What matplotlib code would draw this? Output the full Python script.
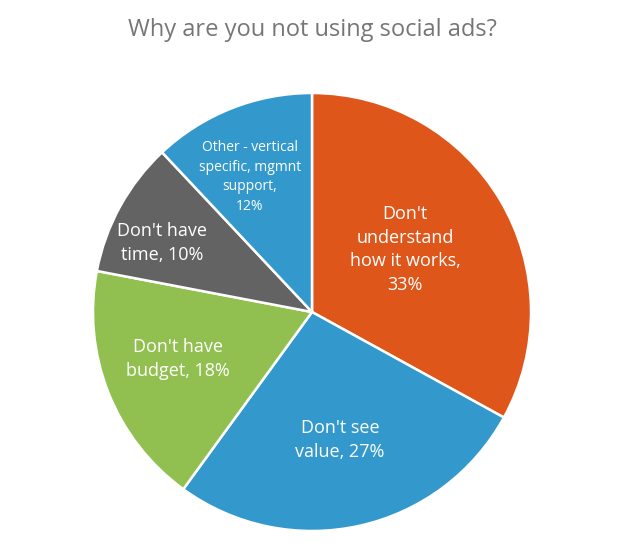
import matplotlib.pyplot as plt

plt.rcParams["font.family"] = ["Open Sans", "DejaVu Sans"]

labels = ["Don't\nunderstand\nhow it works,\n33%",
          "Don't see\nvalue, 27%",
          "Don't have\nbudget, 18%",
          "Don't have\ntime, 10%",
          "Other - vertical\nspecific, mgmnt\nsupport,\n12%"]
values = [33, 27, 18, 10, 12]
colors = ["#DF561B", "#3399CC", "#92C050", "#636363", "#3399CC"]
# label centres in pie radius units
label_pos = [(0.425, 0.285), (0.128, -0.584), (-0.612, -0.215),
             (-0.685, 0.315), (-0.283, 0.616)]
label_size = [13, 13, 13, 13, 10]

fig = plt.figure(figsize=(6.39, 5.57), dpi=100)
ax = fig.add_axes([93 / 639, 26 / 557, 438 / 639, 438 / 557])
wedges, _ = ax.pie(values, colors=colors, startangle=90, counterclock=False,
                   radius=1, wedgeprops=dict(edgecolor="white", linewidth=1.8))
ax.set_xlim(-1, 1)
ax.set_ylim(-1, 1)
ax.set_aspect("equal")
ax.axis("off")

for lab, (x, y), fs in zip(labels, label_pos, label_size):
    ax.text(x, y, lab, color="white", fontsize=fs,
            ha="center", va="center", linespacing=1.4)

fig.text(312 / 639, 1 - 30 / 557, "Why are you not using social ads?",
         ha="center", va="center", fontsize=17, color="#767676")

fig.savefig("out.png", dpi=100)
